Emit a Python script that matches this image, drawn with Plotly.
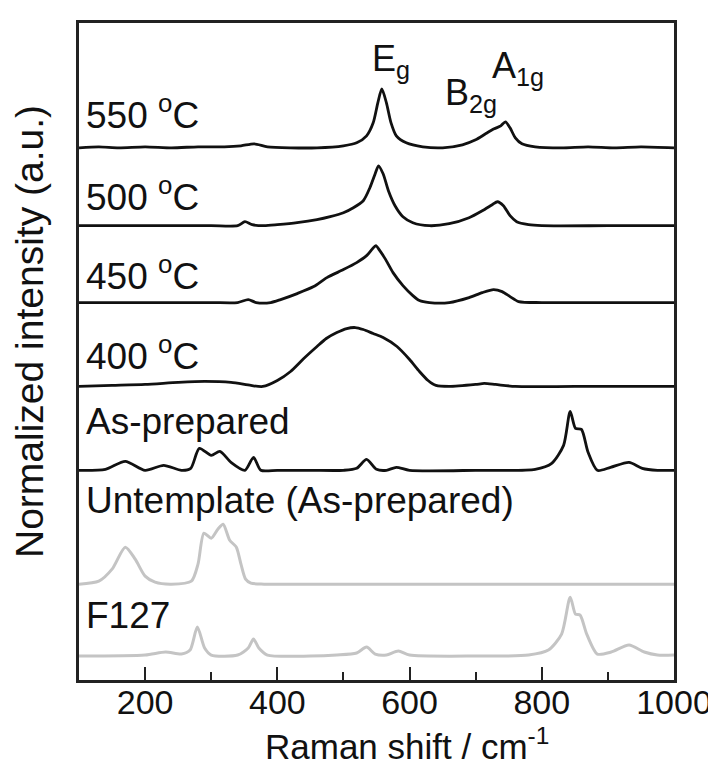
import plotly.graph_objects as go

# ---- data (Raman shift in cm^-1, relative intensity in a.u.) ----
x_550 = [100, 130, 160, 200, 240, 280, 320, 345, 365, 385, 420, 460, 500, 520, 535, 545, 552, 558, 565, 572, 580, 595, 620, 650, 680, 700, 715, 728, 738, 745, 752, 760, 770, 790, 830, 870, 910, 950, 1000]
y_550 = [0.00, 0.01, 0.00, 0.01, 0.00, 0.01, 0.01, 0.02, 0.04, 0.01, 0.00, 0.00, 0.02, 0.05, 0.12, 0.25, 0.45, 0.59, 0.45, 0.25, 0.12, 0.05, 0.01, 0.00, 0.03, 0.08, 0.14, 0.19, 0.22, 0.26, 0.20, 0.10, 0.04, 0.01, 0.00, 0.01, 0.00, 0.01, 0.00]

x_500 = [100, 200, 300, 340, 351, 362, 380, 400, 430, 460, 480, 500, 515, 530, 540, 548, 553, 560, 568, 578, 590, 605, 630, 660, 690, 710, 725, 733, 742, 752, 762, 780, 800, 900, 1000]
y_500 = [0.00, 0.00, 0.00, 0.00, 0.04, 0.01, 0.00, 0.01, 0.03, 0.06, 0.09, 0.13, 0.18, 0.25, 0.38, 0.52, 0.60, 0.52, 0.35, 0.20, 0.09, 0.03, 0.00, 0.02, 0.08, 0.15, 0.21, 0.24, 0.20, 0.10, 0.04, 0.01, 0.00, 0.00, 0.00]

x_450 = [100, 200, 300, 340, 356, 368, 390, 405, 430, 455, 475, 500, 520, 535, 544, 549, 555, 563, 575, 590, 605, 615, 630, 660, 690, 710, 727, 740, 752, 765, 800, 900, 1000]
y_450 = [0.00, 0.00, 0.00, 0.00, 0.03, 0.00, 0.00, 0.03, 0.09, 0.16, 0.25, 0.33, 0.40, 0.47, 0.54, 0.57, 0.52, 0.44, 0.30, 0.17, 0.07, 0.02, 0.00, 0.00, 0.05, 0.10, 0.13, 0.11, 0.06, 0.01, 0.00, 0.00, 0.00]

x_400 = [100, 150, 200, 250, 290, 330, 360, 378, 400, 420, 440, 460, 474, 490, 505, 518, 530, 545, 560, 581, 600, 615, 628, 640, 660, 700, 713, 730, 760, 850, 1000]
y_400 = [0.00, 0.01, 0.02, 0.04, 0.05, 0.04, 0.01, 0.00, 0.06, 0.15, 0.28, 0.40, 0.48, 0.54, 0.58, 0.59, 0.57, 0.53, 0.49, 0.40, 0.27, 0.15, 0.06, 0.01, 0.00, 0.02, 0.03, 0.02, 0.00, 0.00, 0.00]

x_asp = [100, 140, 170, 200, 228, 255, 269, 282, 300, 313, 330, 351, 364, 375, 400, 450, 500, 520, 535, 550, 565, 580, 600, 700, 790, 815, 833, 843, 851, 860, 870, 884, 904, 932, 952, 975, 1000]
y_asp = [0.00, 0.01, 0.09, 0.00, 0.05, 0.00, 0.02, 0.22, 0.15, 0.19, 0.08, 0.00, 0.13, 0.00, 0.00, 0.00, 0.00, 0.02, 0.11, 0.01, 0.00, 0.03, 0.00, 0.00, 0.01, 0.07, 0.25, 0.59, 0.42, 0.41, 0.18, 0.00, 0.03, 0.08, 0.02, 0.00, 0.00]

x_unt = [100, 130, 150, 170, 185, 200, 215, 240, 270, 280, 289, 300, 310, 318, 328, 338, 345, 352, 360, 380, 500, 700, 900, 1000]
y_unt = [0.00, 0.03, 0.15, 0.37, 0.25, 0.08, 0.02, 0.00, 0.03, 0.20, 0.51, 0.46, 0.55, 0.60, 0.44, 0.37, 0.20, 0.05, 0.01, 0.00, 0.00, 0.00, 0.00, 0.00]

x_f127 = [100, 200, 231, 255, 268, 279, 290, 300, 340, 356, 364, 372, 385, 450, 490, 520, 535, 548, 565, 583, 600, 700, 780, 810, 830, 843, 851, 858, 868, 884, 905, 932, 955, 975, 1000]
y_f127 = [0.00, 0.01, 0.04, 0.02, 0.06, 0.29, 0.08, 0.01, 0.01, 0.08, 0.17, 0.08, 0.01, 0.00, 0.01, 0.03, 0.09, 0.02, 0.01, 0.05, 0.01, 0.00, 0.01, 0.06, 0.22, 0.59, 0.42, 0.41, 0.22, 0.02, 0.04, 0.11, 0.04, 0.01, 0.01]

series_x = [x_550, x_500, x_450, x_400, x_asp, x_unt, x_f127]
series_y = [y_550, y_500, y_450, y_400, y_asp, y_unt, y_f127]
offsets = [5.33, 4.55, 3.78, 2.94, 2.10, 0.96, 0.24]
labels = ["550 <sup>o</sup>C", "500 <sup>o</sup>C", "450 <sup>o</sup>C", "400 <sup>o</sup>C",
          "As-prepared", "Untemplate (As-prepared)", "F127"]
label_y = [5.68, 4.865, 4.07, 3.275, 2.59, 1.80, 0.65]
colors = ["#111111", "#111111", "#111111", "#111111", "#111111", "#c4c4c4", "#c4c4c4"]

peak_labels = ["E<sub>g</sub>", "B<sub>2g</sub>", "A<sub>1g</sub>"]
peak_x = [540, 650, 722]
peak_y = [6.20, 5.86, 6.13]

x_ticks = [200, 400, 600, 800, 1000]
minor_ticks = [300, 500, 700, 900]

FONT = "Liberation Sans, Arial, sans-serif"

fig = go.Figure()
for xs, ys, off, col in zip(series_x, series_y, offsets, colors):
    fig.add_trace(go.Scatter(
        x=xs, y=[v + off for v in ys], mode="lines",
        line=dict(color=col, width=2.8 if col == "#111111" else 3.0, shape="spline", smoothing=0.7),
        showlegend=False, hoverinfo="skip"))

for txt, yy in zip(labels, label_y):
    fig.add_annotation(x=108, y=yy, xref="x", yref="y", text=txt, showarrow=False,
                       xanchor="left", yanchor="middle",
                       font=dict(family=FONT, size=37, color="#111111"))

for txt, xx, yy in zip(peak_labels, peak_x, peak_y):
    fig.add_annotation(x=xx, y=yy, xref="x", yref="y", text=txt, showarrow=False,
                       xanchor="left", yanchor="middle",
                       font=dict(family=FONT, size=36, color="#111111"))

# axis titles
fig.add_annotation(x=-0.082, y=0.53, xref="paper", yref="paper", text="Normalized intensity (a.u.)",
                   textangle=-90, showarrow=False, xanchor="center", yanchor="middle",
                   font=dict(family=FONT, size=39, color="#111111"))
fig.add_annotation(x=0.552, y=-0.098, xref="paper", yref="paper", text="Raman shift / cm<sup>-1</sup>",
                   showarrow=False, xanchor="center", yanchor="middle",
                   font=dict(family=FONT, size=35, color="#111111"))

fig.update_layout(
    width=716, height=767,
    margin=dict(l=71, r=46, t=14, b=95),
    paper_bgcolor="white", plot_bgcolor="white",
    font=dict(family=FONT, color="#111111"),
)
fig.update_xaxes(
    range=[100, 1000], tickvals=x_ticks, ticktext=[str(t) for t in x_ticks],
    ticks="inside", ticklen=13, tickwidth=2, tickcolor="#222222",
    minor=dict(ticks="inside", ticklen=8, tickwidth=2, tickcolor="#222222", tickvals=minor_ticks),
    showline=True, linecolor="#222222", linewidth=2.5, mirror=True,
    showgrid=False, zeroline=False, ticklabelstandoff=-10,
    tickfont=dict(family=FONT, size=34, color="#111111"),
)
fig.update_yaxes(
    range=[0, 6.58], showticklabels=False, ticks="",
    showline=True, linecolor="#222222", linewidth=2.5, mirror=True,
    showgrid=False, zeroline=False,
)

fig.write_html("out.html")
